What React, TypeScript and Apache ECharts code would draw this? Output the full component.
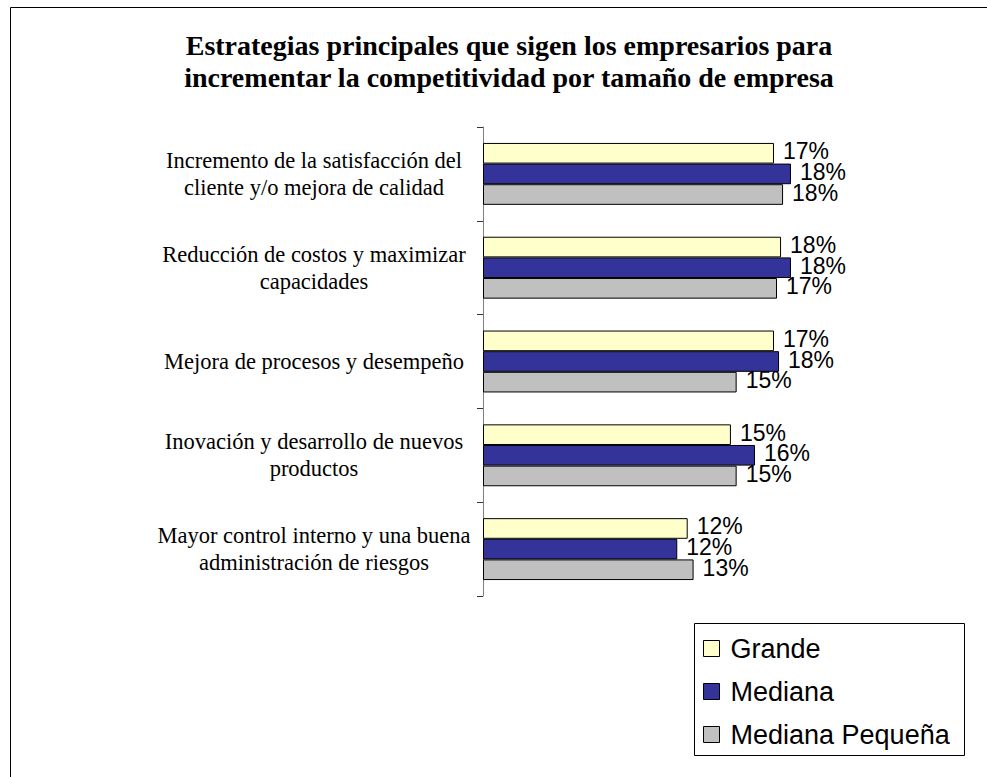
import React, { useEffect, useRef } from "react";
import * as echarts from "echarts";

const titleText =
  "Estrategias principales que sigen los empresarios para\nincrementar la competitividad por tamaño de empresa";

const categories = [
  "Incremento de la satisfacción del\ncliente y/o mejora de calidad",
  "Reducción de costos y maximizar\ncapacidades",
  "Mejora de procesos y desempeño",
  "Inovación y desarrollo de nuevos\nproductos",
  "Mayor control interno y una buena\nadministración de riesgos",
];

const seriesNames = ["Grande", "Mediana", "Mediana Pequeña"];
const grande = [17.3, 17.72, 17.3, 14.74, 12.17];
const mediana = [18.31, 18.31, 17.6, 16.17, 11.55];
const medianaPequena = [17.84, 17.48, 15.08, 15.08, 12.52];
const seriesColors = ["#FFFFCC", "#333399", "#C0C0C0"];

export default function App() {
  const ref = useRef<HTMLDivElement>(null);

  useEffect(() => {
    if (!ref.current) return;
    const chart = echarts.init(ref.current, null, { renderer: "svg" });
    const values = [grande, mediana, medianaPequena];
    const series = seriesNames.map((name, i) => ({
      name,
      type: "bar",
      data: values[i],
      barGap: "0%",
      barCategoryGap: "34%",
      itemStyle: { color: seriesColors[i], borderColor: "#000", borderWidth: 1 },
      label: {
        show: true,
        position: "right",
        distance: 9,
        offset: [0, -2],
        color: "#000",
        fontFamily: "Liberation Sans, Arial, sans-serif",
        fontSize: 23,
        formatter: (p: any) => Math.round(p.value) + "%",
      },
    }));

    chart.setOption({
      animation: false,
      backgroundColor: "#fff",
      graphic: [
        {
          type: "rect",
          shape: { x: 10.5, y: 7.5, width: 1100, height: 900 },
          style: { fill: "none", stroke: "#000", lineWidth: 1 },
          silent: true,
        },
        {
          type: "text",
          x: 509,
          y: 29,
          style: {
            text: titleText,
            fill: "#000",
            font: "bold 28px 'Liberation Serif', 'Times New Roman', serif",
            textAlign: "center",
            textVerticalAlign: "top",
            lineHeight: 32,
          },
        },
        {
          type: "rect",
          shape: { x: 694.5, y: 623.5, width: 270, height: 132 },
          style: { fill: "#fff", stroke: "#000", lineWidth: 1 },
          silent: true,
          z: -1,
        },
      ],
      legend: {
        orient: "vertical",
        left: 703,
        top: 635,
        padding: 0,
        itemWidth: 16,
        itemHeight: 16,
        itemGap: 16,
        icon: "rect",
        itemStyle: { borderColor: "#000", borderWidth: 1 },
        textStyle: {
          fontFamily: "Liberation Sans, Arial, sans-serif",
          fontSize: 27,
          color: "#000",
          padding: [0, 0, 0, 6],
        },
        data: seriesNames,
      },
      grid: { left: 483, top: 127, width: 336.4, height: 469, containLabel: false },
      xAxis: { type: "value", min: 0, max: 20, show: false },
      yAxis: {
        type: "category",
        inverse: true,
        data: categories,
        axisLine: { show: true, lineStyle: { color: "#808080", width: 1 } },
        axisTick: { show: true, length: 6, lineStyle: { color: "#333" } },
        axisLabel: {
          align: "center",
          margin: 169,
          color: "#000",
          fontFamily: "Liberation Serif, 'Times New Roman', serif",
          fontSize: 22.5,
          lineHeight: 27,
        },
        splitLine: { show: false },
      },
      series,
    });
    return () => chart.dispose();
  }, []);

  return (
    <div
      ref={ref}
      style={{ position: "fixed", left: 0, top: 0, width: 987, height: 777 }}
    />
  );
}
